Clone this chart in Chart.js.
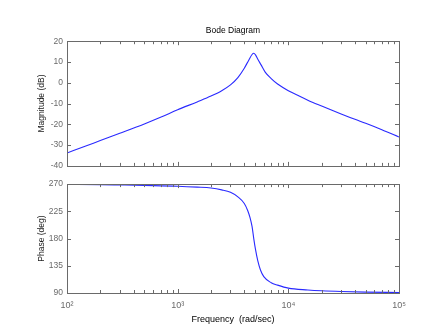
<!DOCTYPE html>
<html>
<head>
<meta charset="utf-8">
<script src="https://cdn.jsdelivr.net/npm/chart.js@4"></script>
<style>
  body { margin: 0; background: #fff; }
  #wrap { position: relative; width: 441px; height: 330px; background: #fff; }
  .painel { position: absolute; left: 0; width: 441px; }
</style>
</head>
<body>
<div id="wrap">
  <div class="painel" style="top:0;height:175px"><canvas id="graficoMag"></canvas></div>
  <div class="painel" style="top:175px;height:155px"><canvas id="graficoFase"></canvas></div>
</div>
<script>
// dados
const freqMag = [100, 150, 200, 300, 500, 700, 1000, 1500, 2000, 2500, 3000, 3500, 4000, 4400, 4700, 4870, 5050, 5300, 5670, 6200, 7000, 8000, 10000, 12000, 15000, 20000, 30000, 40000, 50000, 70000, 100000];
const magDb = [-33.8, -30.3, -27.8, -24.3, -19.8, -16.6, -13.0, -9.2, -6.4, -3.8, -1.0, 2.5, 7.0, 11.0, 13.6, 14.2, 13.4, 11.3, 8.6, 5.0, 2.0, -0.6, -3.8, -5.9, -8.4, -11.2, -15.0, -17.6, -19.5, -22.6, -26.1];

const freqFase = [100, 200, 300, 500, 1000, 1500, 2000, 2500, 3000, 3500, 4000, 4300, 4500, 4700, 4870, 5050, 5300, 5600, 6000, 7000, 8000, 10000, 15000, 20000, 30000, 50000, 100000];
const faseDeg = [269.8, 269.2, 268.6, 267.8, 266.5, 265.0, 263.5, 260.5, 256.5, 249, 238, 226, 215, 200, 180, 162, 143, 128, 117, 107, 103, 98, 95, 93.6, 92.4, 91.5, 90.8];

// eixos
const decadas = [100, 1000, 10000, 100000];
const rotulosDecadas = ['10\u00b2', '10\u00b3', '10\u2074', '10\u2075'];
const ticksMag = [-40, -30, -20, -10, 0, 10, 20];
const ticksFase = [90, 135, 180, 225, 270];

const corEixo = '#6a6a6a';
const corLinha = '#2a2aff';
const fonte = 'Liberation Sans, Arial, sans-serif';

Chart.defaults.font.family = fonte;
Chart.defaults.font.size = 8.5;

// marcas de escala log (1..9 x decada)
let ticksX = [];
for (let d = 0; d < decadas.length; d++) {
  ticksX.push(decadas[d]);
  if (d < decadas.length - 1) {
    for (let m = 2; m <= 9; m++) ticksX.push(decadas[d] * m);
  }
}

// desenha a moldura e os ticks para dentro (estilo matlab)
const molduraPlugin = {
  id: 'moldura',
  afterDraw(chart, args, opts) {
    const ctx = chart.ctx;
    const a = chart.chartArea;
    const sx = chart.scales.x;
    const sy = chart.scales.y;
    const ticksY = opts.ticksY || [];
    ctx.save();
    ctx.strokeStyle = corEixo;
    ctx.lineWidth = 1;
    ctx.strokeRect(Math.round(a.left) + 0.5, Math.round(a.top) + 0.5, Math.round(a.right - a.left), Math.round(a.bottom - a.top));
    ctx.beginPath();
    ticksX.forEach(v => {
      const px = Math.round(sx.getPixelForValue(v)) + 0.5;
      const len = decadas.includes(v) ? 4 : 3;
      ctx.moveTo(px, a.bottom);
      ctx.lineTo(px, a.bottom - len);
      ctx.moveTo(px, a.top);
      ctx.lineTo(px, a.top + len);
    });
    ticksY.forEach(v => {
      const py = Math.round(sy.getPixelForValue(v)) + 0.5;
      ctx.moveTo(a.left, py);
      ctx.lineTo(a.left + 4, py);
      ctx.moveTo(a.right, py);
      ctx.lineTo(a.right - 4, py);
    });
    ctx.stroke();
    ctx.restore();
  }
};

function criarGrafico(id, freqs, valores, cfg) {
  const ctx = document.getElementById(id).getContext('2d');
  const pontos = freqs.map((f, i) => ({ x: f, y: valores[i] }));
  return new Chart(ctx, {
    type: 'line',
    data: {
      datasets: [{
        data: pontos,
        borderColor: corLinha,
        borderWidth: 1.1,
        pointRadius: 0,
        fill: false,
        cubicInterpolationMode: 'monotone'
      }]
    },
    options: {
      responsive: true,
      maintainAspectRatio: false,
      animation: false,
      layout: { padding: cfg.padding },
      plugins: {
        legend: { display: false },
        tooltip: { enabled: false },
        title: cfg.titulo,
        moldura: { ticksY: cfg.ticksY }
      },
      scales: {
        x: {
          type: 'logarithmic',
          min: 100,
          max: 100000,
          grid: { display: false, drawTicks: false, tickLength: 0 },
          border: { display: false },
          afterBuildTicks: (scale) => {
            scale.ticks = ticksX.map(v => ({ value: v, major: decadas.includes(v) }));
          },
          afterFit: (scale) => { scale.height = cfg.alturaX; },
          ticks: {
            display: cfg.mostrarX,
            autoSkip: false,
            maxRotation: 0,
            padding: 7,
            color: corEixo,
            font: { size: 9 },
            callback: (value) => {
              const i = decadas.indexOf(value);
              return i >= 0 ? rotulosDecadas[i] : '';
            }
          },
          title: cfg.tituloX
        },
        y: {
          min: cfg.ticksY[0],
          max: cfg.ticksY[cfg.ticksY.length - 1],
          grid: { display: false, drawTicks: false, tickLength: 0 },
          border: { display: false },
          afterBuildTicks: (scale) => {
            scale.ticks = cfg.ticksY.map(v => ({ value: v }));
          },
          afterFit: (scale) => { scale.width = 67; },
          ticks: { padding: 4, color: corEixo },
          title: {
            display: true,
            text: cfg.rotuloY,
            color: '#222',
            padding: { top: 37, bottom: 0 }
          }
        }
      }
    },
    plugins: [molduraPlugin]
  });
}

criarGrafico('graficoMag', freqMag, magDb, {
  padding: { left: 0, right: 42, top: 26, bottom: 5 },
  titulo: { display: true, fullSize: false, text: 'Bode Diagram', color: '#000', font: { size: 8.5, weight: 'normal' }, padding: { top: 0, bottom: 5 } },
  alturaX: 0,
  mostrarX: false,
  tituloX: { display: false },
  ticksY: ticksMag,
  rotuloY: 'Magnitude (dB)'
});

criarGrafico('graficoFase', freqFase, faseDeg, {
  padding: { left: 0, right: 42, top: 5, bottom: 0 },
  titulo: { display: false },
  alturaX: 37,
  mostrarX: true,
  tituloX: { display: true, text: 'Frequency  (rad/sec)', color: '#000', font: { size: 9 }, padding: { top: 0, bottom: 5 } },
  ticksY: ticksFase,
  rotuloY: 'Phase (deg)'
});
</script>
</body>
</html>
